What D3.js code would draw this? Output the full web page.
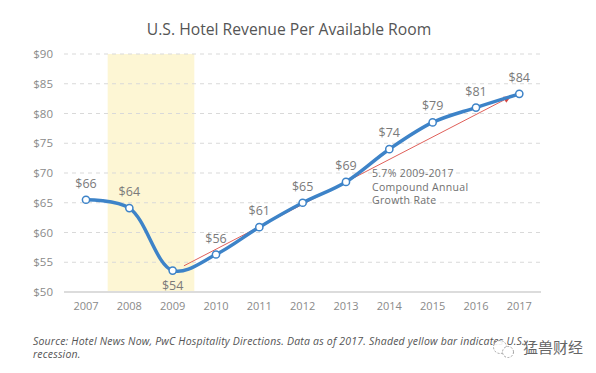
<!DOCTYPE html>
<html>
<head>
<meta charset="utf-8">
<script src="https://cdn.jsdelivr.net/npm/d3@7"></script>
<style>
  body { margin: 0; background: #fff; }
  svg { display: block; font-family: "Open Sans", "DejaVu Sans", sans-serif; }
</style>
</head>
<body>
<div id="chart"></div>
<script>
(function(){
    const width = 596;
    const height = 373;

    // data
    const years = [2007, 2008, 2009, 2010, 2011, 2012, 2013, 2014, 2015, 2016, 2017];
    const revpar = [65.5, 64.1, 53.6, 56.3, 60.9, 65.0, 68.5, 74.0, 78.5, 81.0, 83.3];
    const pointLabels = ["$66", "$64", "$54", "$56", "$61", "$65", "$69", "$74", "$79", "$81", "$84"];
    const yTicks = [50, 55, 60, 65, 70, 75, 80, 85, 90];
    const recession = [2007.5, 2009.5];
    const trendStart = [2009.26, 54.4];
    const trendEnd = [2016.79, 82.8];
    const noteLines = ["5.7% 2009-2017", "Compound Annual", "Growth Rate"];
    const sourceLines = [
        "Source: Hotel News Now, PwC Hospitality Directions. Data as of 2017. Shaded yellow bar indicates U.S.",
        "recession."
    ];

    const svg = d3.select("#chart").append("svg")
        .attr("width", width)
        .attr("height", height);

    const x = d3.scaleLinear().domain([2007, 2017]).range([86, 519.3]);
    const y = d3.scaleLinear().domain([50, 90]).range([292, 54]);
    const gridLeft = 64, gridRight = 541;

    // title
    svg.append("text")
        .attr("x", 289).attr("y", 35)
        .attr("text-anchor", "middle")
        .attr("font-size", 15.7)
        .attr("fill", "#555")
        .text("U.S. Hotel Revenue Per Available Room");

    // recession band
    svg.append("rect")
        .attr("x", x(recession[0]))
        .attr("y", y(90))
        .attr("width", x(recession[1]) - x(recession[0]))
        .attr("height", y(50) - y(90))
        .attr("fill", "#fdf6d4");

    // grid lines
    svg.append("g").selectAll("line")
        .data(yTicks.filter(d => d > 50))
        .join("line")
        .attr("x1", gridLeft).attr("x2", gridRight)
        .attr("y1", d => y(d)).attr("y2", d => y(d))
        .attr("stroke", "#d9d9d9")
        .attr("stroke-width", 1)
        .attr("stroke-dasharray", "4,4");

    // baseline
    svg.append("line")
        .attr("x1", gridLeft).attr("x2", gridRight)
        .attr("y1", y(50)).attr("y2", y(50))
        .attr("stroke", "#dcdcdc")
        .attr("stroke-width", 2);

    // y labels
    svg.append("g").selectAll("text")
        .data(yTicks)
        .join("text")
        .attr("x", 53)
        .attr("y", d => y(d) + 4)
        .attr("text-anchor", "end")
        .attr("font-size", 11.5)
        .attr("fill", "#8a8a8a")
        .text(d => "$" + d);

    // x labels
    svg.append("g").selectAll("text")
        .data(years)
        .join("text")
        .attr("x", d => x(d))
        .attr("y", 310)
        .attr("text-anchor", "middle")
        .attr("font-size", 11)
        .attr("fill", "#8a8a8a")
        .text(d => d);

    // trend arrow
    svg.append("defs").append("marker")
        .attr("id", "arrow")
        .attr("viewBox", "0 0 10 10")
        .attr("refX", 9).attr("refY", 5)
        .attr("markerWidth", 7).attr("markerHeight", 7)
        .attr("orient", "auto")
        .append("path")
        .attr("d", "M0,0 L10,5 L0,10 z")
        .attr("fill", "#d64541");

    svg.append("line")
        .attr("x1", x(trendStart[0])).attr("y1", y(trendStart[1]))
        .attr("x2", x(trendEnd[0])).attr("y2", y(trendEnd[1]))
        .attr("stroke", "#e0605a")
        .attr("stroke-width", 1)
        .attr("marker-end", "url(#arrow)");

    // main line
    const data = years.map((yr, i) => ({ year: yr, value: revpar[i], label: pointLabels[i] }));
    const line = d3.line()
        .x(d => x(d.year))
        .y(d => y(d.value))
        .curve(d3.curveCatmullRom.alpha(0.5));

    svg.append("path")
        .datum(data)
        .attr("d", line)
        .attr("fill", "none")
        .attr("stroke", "#3d83c8")
        .attr("stroke-width", 3.5)
        .attr("stroke-linecap", "round");

    svg.append("g").selectAll("circle")
        .data(data)
        .join("circle")
        .attr("cx", d => x(d.year))
        .attr("cy", d => y(d.value))
        .attr("r", 3.6)
        .attr("fill", "#fff")
        .attr("stroke", "#3d83c8")
        .attr("stroke-width", 1.5);

    // value labels ($54 sits below its point)
    svg.append("g").selectAll("text")
        .data(data)
        .join("text")
        .attr("x", d => x(d.year))
        .attr("y", d => d.year === 2009 ? y(d.value) + 19 : y(d.value) - 12)
        .attr("text-anchor", "middle")
        .attr("font-size", 12.5)
        .attr("fill", "#7a7a7a")
        .text(d => d.label);

    // CAGR note
    svg.append("g").selectAll("text")
        .data(noteLines)
        .join("text")
        .attr("x", 372)
        .attr("y", (d, i) => 177 + i * 13.5)
        .attr("font-size", 10.5)
        .attr("letter-spacing", 0.3)
        .attr("fill", "#707070")
        .text(d => d);

    // source note
    svg.append("g").selectAll("text")
        .data(sourceLines)
        .join("text")
        .attr("x", 33)
        .attr("y", (d, i) => 345 + i * 13)
        .attr("font-size", 10.5)
        .attr("letter-spacing", 0.2)
        .attr("font-style", "italic")
        .attr("fill", "#555")
        .text(d => d);

    // watermark
    const wm = svg.append("g").attr("opacity", 0.9);
    wm.append("circle").attr("cx", 500).attr("cy", 347).attr("r", 6.5)
        .attr("fill", "#fff").attr("stroke", "#999").attr("stroke-dasharray", "2,1.5");
    wm.append("circle").attr("cx", 508).attr("cy", 352).attr("r", 5.5)
        .attr("fill", "#fff").attr("stroke", "#999").attr("stroke-dasharray", "2,1.5");
    wm.append("text")
        .attr("x", 523).attr("y", 353)
        .attr("font-family", "Noto Sans CJK SC")
        .attr("font-size", 15)
        .attr("fill", "#555")
        .text("猛兽财经");
})();
</script>
</body>
</html>
